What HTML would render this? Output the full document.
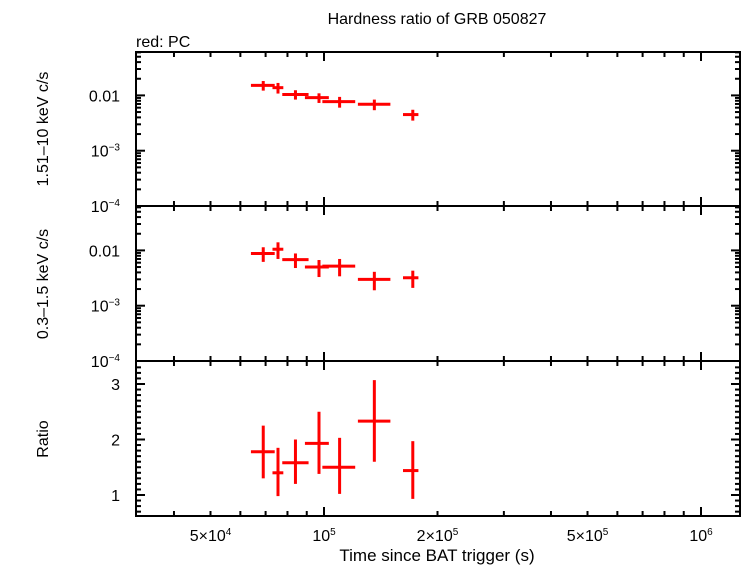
<!DOCTYPE html>
<html><head><meta charset="utf-8"><style>
body{margin:0;background:#fff;width:742px;height:566px;overflow:hidden}
svg{display:block;font-family:"Liberation Sans",sans-serif}
</style></head><body>
<svg id="c" width="742" height="566"></svg>
<script>
const times=[6.9e4,7.55e4,8.4e4,9.7e4,1.1e5,1.36e5,1.72e5];
const tLo=[6.4e4,7.3e4,7.75e4,8.9e4,9.9e4,1.23e5,1.62e5];
const tHi=[7.4e4,7.8e4,9.1e4,1.03e5,1.21e5,1.5e5,1.78e5];
const hard=[0.0152,0.0138,0.0104,0.0091,0.0077,0.0069,0.0045];
const hardErr=[0.003,0.003,0.002,0.0018,0.0017,0.0015,0.001];
const soft=[0.0088,0.0105,0.0068,0.0050,0.0052,0.0030,0.0032];
const softErr=[0.0026,0.0035,0.002,0.0017,0.0018,0.0011,0.0011];
const ratio=[1.78,1.4,1.58,1.93,1.5,2.33,1.44];
const rLo=[1.3,0.98,1.2,1.38,1.02,1.6,0.93];
const rHi=[2.25,1.85,2.0,2.5,2.03,3.07,1.97];
const xTickVals=[5e4,1e5,2e5,5e5,1e6];
const xTickLabels=["5×10<tspan dy='-6' font-size='10'>4</tspan>","10<tspan dy='-6' font-size='10'>5</tspan>","2×10<tspan dy='-6' font-size='10'>5</tspan>","5×10<tspan dy='-6' font-size='10'>5</tspan>","10<tspan dy='-6' font-size='10'>6</tspan>"];
const logLabels=["0.01","10<tspan dy='-6' font-size='10'>−3</tspan>","10<tspan dy='-6' font-size='10'>−4</tspan>"];
const logVals=[0.01,1e-3,1e-4];
const ratioTicks=[1,2,3];

const L=136,R=740;
const X=t=>324+(Math.log10(t)-5)*377;
const panels=[{top:52,bot:206},{top:206,bot:361},{top:361,bot:516}];
const YL=(p,v)=>p.bot-(Math.log10(v)+4)*55.3;
const YR=v=>495-(v-1)*55.5;
const svg=document.getElementById('c');
const NS='http://www.w3.org/2000/svg';
function el(tag,a,parent){const e=document.createElementNS(NS,tag);for(const k in a)e.setAttribute(k,a[k]);(parent||svg).appendChild(e);return e;}
function line(x1,y1,x2,y2,col,w,name){const e=el('line',{x1,y1,x2,y2,stroke:col,'stroke-width':w});

return e;}
function text(x,y,html,anchor,size,name,rot){const e=el('text',{x,y,'text-anchor':anchor,'font-size':size,fill:'#000'});if(rot)e.setAttribute('transform',rot);e.innerHTML=html;

return e;}

text(437,24,"Hardness ratio of GRB 050827","middle",16,"chart-title");
text(136,47,"red: PC","start",16,"legend-label");

const xMinor=[];for(let d=4;d<=6;d++)for(let m=1;m<10;m++){const v=m*Math.pow(10,d);if(v>3.2e4&&v<1.26e6)xMinor.push(v);}
panels.forEach((p,pi)=>{
  const f=el('rect',{x:L,y:p.top,width:R-L,height:p.bot-p.top,fill:'none',stroke:'#000','stroke-width':2});
  
  
  xMinor.forEach(v=>{const major=(v===1e5||v===1e6);const len=major?9:5;const x=X(v);
    line(x,p.top,x,p.top+len,'#000',2,'x-tick');line(x,p.bot,x,p.bot-len,'#000',2,'x-tick');});
  if(pi<2){
    for(let d=-4;d<-1;d++)for(let m=1;m<10;m++){const v=m*Math.pow(10,d);const y=YL(p,v);if(y<p.top)continue;const len=m===1?9:5;
      line(L,y,L+len,y,'#000',2,'y-tick');line(R,y,R-len,y,'#000',2,'y-tick');}
    logVals.forEach((v,i)=>text(120,YL(p,v)+6,logLabels[i],"end",16,"y-tick-label"));
  } else {
    for(let v=0.7;v<3.4;v+=0.1){const y=YR(v);const maj=Math.abs(v-Math.round(v))<0.01;const len=maj?9:5;
      line(L,y,L+len,y,'#000',2,'y-tick');line(R,y,R-len,y,'#000',2,'y-tick');}
    ratioTicks.forEach(v=>text(120,YR(v)+6,String(v),"end",16,"y-tick-label"));
  }
});
xTickVals.forEach((v,i)=>text(X(v),541,xTickLabels[i],"middle",16,"x-tick-label"));
text(437,561,"Time since BAT trigger (s)","middle",17,"x-axis-title");
text(48,129,"1.51–10 keV c/s","middle",16,"y-axis-title-hard","rotate(-90 48 129)");
text(48,284,"0.3–1.5 keV c/s","middle",16,"y-axis-title-soft","rotate(-90 48 284)");
text(48,439,"Ratio","middle",16,"y-axis-title-ratio","rotate(-90 48 439)");

const red='#ff0000';
times.forEach((t,i)=>{
  const x=X(t),x1=X(tLo[i]),x2=X(tHi[i]);
  let y=YL(panels[0],hard[i]);
  line(x1,y,x2,y,red,3,'hard-point');line(x,YL(panels[0],hard[i]+hardErr[i]),x,YL(panels[0],hard[i]-hardErr[i]),red,3,'hard-errorbar');
  y=YL(panels[1],soft[i]);
  line(x1,y,x2,y,red,3,'soft-point');line(x,YL(panels[1],soft[i]+softErr[i]),x,YL(panels[1],soft[i]-softErr[i]),red,3,'soft-errorbar');
  y=YR(ratio[i]);
  line(x1,y,x2,y,red,3,'ratio-point');line(x,YR(rHi[i]),x,YR(rLo[i]),red,3,'ratio-errorbar');
});
</script>
</body></html>
